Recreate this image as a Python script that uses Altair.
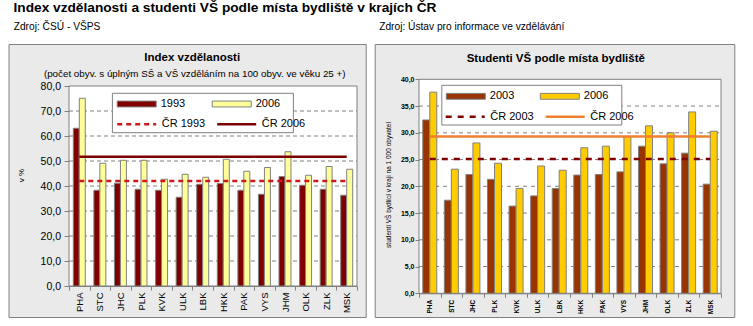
import altair as alt
import pandas as pd

FONT = "Liberation Sans"

# ---------------- data ----------------
regions = ["PHA", "STC", "JHC", "PLK", "KVK", "ULK", "LBK", "HKK", "PAK", "VYS", "JHM", "OLK", "ZLK", "MSK"]

# Index vzdělanosti
idx_series = ["1993", "2006"]
idx_1993 = [63.1, 38.3, 41.1, 38.7, 38.3, 35.5, 40.7, 41.0, 38.3, 36.7, 43.8, 40.3, 38.7, 36.3]
idx_2006 = [75.1, 49.1, 50.3, 50.3, 42.7, 44.7, 43.5, 50.7, 45.9, 47.4, 53.7, 44.3, 47.8, 46.7]
idx_cr_series = ["ČR 1993", "ČR 2006"]
idx_cr = [42.0, 51.7]
idx_ticks = [0, 10, 20, 30, 40, 50, 60, 70, 80]

# Studenti VŠ
stud_series = ["2003", "2006"]
stud_2003 = [32.4, 17.4, 22.2, 21.3, 16.3, 18.2, 19.6, 22.1, 22.2, 22.7, 27.5, 24.2, 26.2, 20.4]
stud_2006 = [37.6, 23.2, 28.1, 24.3, 19.6, 23.8, 23.0, 27.2, 27.5, 29.3, 31.3, 30.0, 33.9, 30.3]
stud_cr_series = ["ČR 2003", "ČR 2006"]
stud_cr = [25.1, 29.3]
stud_ticks = [0, 5, 10, 15, 20, 25, 30, 35, 40]

main_title = "Index vzdělanosti a studenti VŠ podle místa bydliště v krajích ČR"
src_left = "Zdroj: ČSÚ - VŠPS"
src_right = "Zdroj: Ústav pro informace ve vzdělávání"
title_left = "Index vzdělanosti"
sub_left = "(počet obyv. s úplným SŠ a VŠ vzděláním na 100 obyv. ve věku 25 +)"
title_right = "Studenti VŠ podle místa bydliště"
ytitle_left = "v %"
ytitle_right = "studenti VŠ bydlící v kraji na 1 000 obyvatel"

GRAY = "#808080"
PANEL = "#EAEAEA"
BAR_PATH = "M-1,-0.15H1V0.15H-1Z"
ORIGIN_Y = 78  # common top of both views (page pixels)


def one_text(t):
    return pd.DataFrame({"t": [t]})


def panel(cfg):
    x0 = cfg["x0"]
    W = cfg["W"]
    top = cfg["top"] - ORIGIN_Y          # plot top inside the view
    bottom = cfg["bottom"] - ORIGIN_Y    # plot bottom = view height
    VH = bottom

    def rx(a):
        return a - x0

    def ry(a):
        return a - ORIGIN_Y

    bar_series = cfg["bar_series"]
    cr_series = cfg["cr_series"]

    rows = []
    for s, vals in zip(bar_series, cfg["bar_values"]):
        for r, v in zip(regions, vals):
            rows.append({"region": r, "series": s, "value": v})
    bar_df = pd.DataFrame(rows)

    lrows = []
    for s, v in zip(cr_series, cfg["cr_values"]):
        for r in regions:
            lrows.append({"region": r, "crseries": s, "value": v})
    line_df = pd.DataFrame(lrows)

    grid_df = pd.DataFrame({"value": cfg["ticks"][1:-1]})

    yscale = alt.Scale(domain=[cfg["ticks"][0], cfg["ticks"][-1]], nice=False, zero=True,
                       range=[VH, top])
    xscale = alt.Scale(paddingInner=0, paddingOuter=0)

    common_leg = dict(
        title=None, orient="none", direction="horizontal", columns=2,
        labelFont=FONT, labelFontSize=11, labelColor="black", labelOffset=4,
        padding=0, zindex=1, symbolSize=1521, symbolOpacity=1,
    )
    bar_legend = alt.Legend(
        legendX=rx(cfg["bl"][0]), legendY=ry(cfg["bl"][1]) - 19, columnPadding=cfg["bcp"],
        symbolType=BAR_PATH, symbolStrokeColor=GRAY, symbolStrokeWidth=1, **common_leg)
    line_legend = alt.Legend(
        legendX=rx(cfg["ll"][0]), legendY=ry(cfg["ll"][1]) - 18.5, columnPadding=cfg["lcp"],
        symbolType="stroke", symbolStrokeWidth=cfg["line_w"], **common_leg)

    xaxis = alt.Axis(
        title=None, labelAngle=270, labelAlign="right", labelBaseline="middle",
        labelFont=FONT, labelFontSize=cfg["xlab_size"], labelFontWeight=cfg["lab_weight"],
        labelColor="black", labelPadding=cfg["xlab_pad"],
        tickBand="extent", tickSize=4, tickColor=GRAY, domainColor=GRAY,
        grid=False, zindex=1)
    yaxis = alt.Axis(
        title=cfg["ytitle"], values=cfg["ticks"],
        labelExpr="replace(format(datum.value, '.1f'), '.', ',')",
        labelFont=FONT, labelFontSize=cfg["ylab_size"], labelFontWeight=cfg["lab_weight"],
        labelColor="black", labelPadding=cfg["ylab_pad"],
        tickSize=cfg["ytick"], tickColor=GRAY, domain=False, grid=False, zindex=1,
        titleFont=FONT, titleFontSize=cfg["ytitle_size"], titleFontWeight="normal",
        titleColor="black", titleAngle=270, titleAlign="center", titleBaseline="middle",
        titleX=rx(cfg["ytitle_pos"][0]), titleY=ry(cfg["ytitle_pos"][1]))

    bg = alt.Chart(one_text("")).mark_rect(fill=PANEL, stroke=GRAY, strokeWidth=1).encode(
        x=alt.value(rx(cfg["rect"][0])), x2=alt.value(rx(cfg["rect"][1])),
        y=alt.value(ry(cfg["rect"][2])), y2=alt.value(ry(cfg["rect"][3])))
    plotbg = alt.Chart(one_text("")).mark_rect(fill="white", stroke=GRAY, strokeWidth=1).encode(
        x=alt.value(0), x2=alt.value(W), y=alt.value(top), y2=alt.value(VH))
    grid = alt.Chart(grid_df).mark_rule(stroke=GRAY, strokeWidth=1, strokeDash=cfg["grid_dash"]).encode(
        y=alt.Y("value:Q", scale=yscale, axis=yaxis),
        x=alt.value(0), x2=alt.value(W))

    bars = alt.Chart(bar_df).mark_bar(stroke=GRAY, strokeWidth=1).encode(
        x=alt.X("region:N", sort=regions, scale=xscale, axis=xaxis),
        xOffset=alt.XOffset("series:N", sort=bar_series,
                            scale=alt.Scale(domain=bar_series, paddingInner=0, paddingOuter=cfg["po"])),
        y=alt.Y("value:Q", scale=yscale, axis=yaxis),
        fill=alt.Fill("series:N", scale=alt.Scale(domain=bar_series, range=cfg["bar_colors"]),
                      legend=bar_legend),
    )
    lines = alt.Chart(line_df).mark_line(strokeWidth=cfg["line_w"]).encode(
        x=alt.X("region:N", sort=regions, axis=xaxis),
        y=alt.Y("value:Q", axis=yaxis),
        stroke=alt.Stroke("crseries:N", scale=alt.Scale(domain=cr_series, range=cfg["cr_colors"]),
                          legend=line_legend),
        strokeDash=alt.StrokeDash("crseries:N", scale=alt.Scale(domain=cr_series, range=cfg["cr_dash"]),
                                  legend=line_legend),
    )
    legbox = alt.Chart(one_text("")).mark_rect(fill="white", stroke=GRAY, strokeWidth=1).encode(
        x=alt.value(rx(cfg["box"][0])), x2=alt.value(rx(cfg["box"][1])),
        y=alt.value(ry(cfg["box"][2])), y2=alt.value(ry(cfg["box"][3])))

    texts = []
    for t, x, y, size, weight, align in cfg["texts"]:
        texts.append(alt.Chart(one_text(t)).mark_text(
            font=FONT, fontSize=size, fontWeight=weight, align=align, baseline="middle",
            color="black").encode(x=alt.value(rx(x)), y=alt.value(ry(y)), text="t:N"))

    return alt.layer(bg, plotbg, grid, bars, lines, legbox, *texts).properties(width=W, height=VH)


# positions below are page pixels of the 753x326 picture
left_cfg = dict(
    x0=68.3, W=288, top=85, bottom=285,
    bar_series=idx_series, bar_values=[idx_1993, idx_2006],
    cr_series=idx_cr_series, cr_values=idx_cr,
    bar_colors=["#800000", "#FFFF99"], cr_colors=["#D01818", "#7A0000"],
    cr_dash=[[5, 4], [1, 0]], line_w=2.5, grid_dash=[4, 3],
    ticks=idx_ticks, po=0.72,
    rect=[8.3, 365.5, 43.5, 316.5],
    box=[111.7, 292.7, 92.3, 131.7],
    bl=[116, 102], bcp=24, ll=[115, 120.7], lcp=6,
    xlab_size=9.5, ylab_size=10.5, lab_weight="normal", xlab_pad=2, ylab_pad=3.5, ytick=5,
    ytitle=ytitle_left, ytitle_size=8, ytitle_pos=[21, 174],
    texts=[
        (src_left, 13, 26, 10.2, "normal", "left"),
        (title_left, 191.5, 56.7, 11.5, "bold", "center"),
        (sub_left, 194, 73.3, 9.8, "normal", "center"),
    ],
)

right_cfg = dict(
    x0=416.5, W=302, top=78.3, bottom=292.3,
    bar_series=stud_series, bar_values=[stud_2003, stud_2006],
    cr_series=stud_cr_series, cr_values=stud_cr,
    bar_colors=["#993300", "#FFCC00"], cr_colors=["#800000", "#F07F2F"],
    cr_dash=[[6, 6], [1, 0]], line_w=2.5, grid_dash=[4, 4],
    ticks=stud_ticks, po=0.54,
    rect=[372.7, 732.3, 43.5, 316.5],
    box=[439.3, 619.3, 84.3, 124],
    bl=[443.3, 94.3], bcp=23, ll=[441.7, 113.3], lcp=6,
    xlab_size=6.5, ylab_size=7, lab_weight="bold", xlab_pad=2, ylab_pad=1, ytick=4,
    ytitle=ytitle_right, ytitle_size=6.5, ytitle_pos=[386, 183.5],
    texts=[
        (src_right, 376.7, 26, 10.2, "normal", "left"),
        (title_right, 553.3, 58.3, 11.5, "bold", "center"),
    ],
)

chart = alt.hconcat(panel(left_cfg), panel(right_cfg), spacing=7).resolve_scale(
    fill="independent", stroke="independent", strokeDash="independent", xOffset="independent"
).properties(
    title=alt.Title(main_title, anchor="start", dx=5, font=FONT, fontSize=13.7,
                    fontWeight="bold", color="black", offset=7),
    padding={"left": 8, "top": 1, "right": 0, "bottom": 0},
    background="white",
).configure_view(stroke=None)

chart.save("out.html", embed_options={"renderer": "svg", "actions": False})
